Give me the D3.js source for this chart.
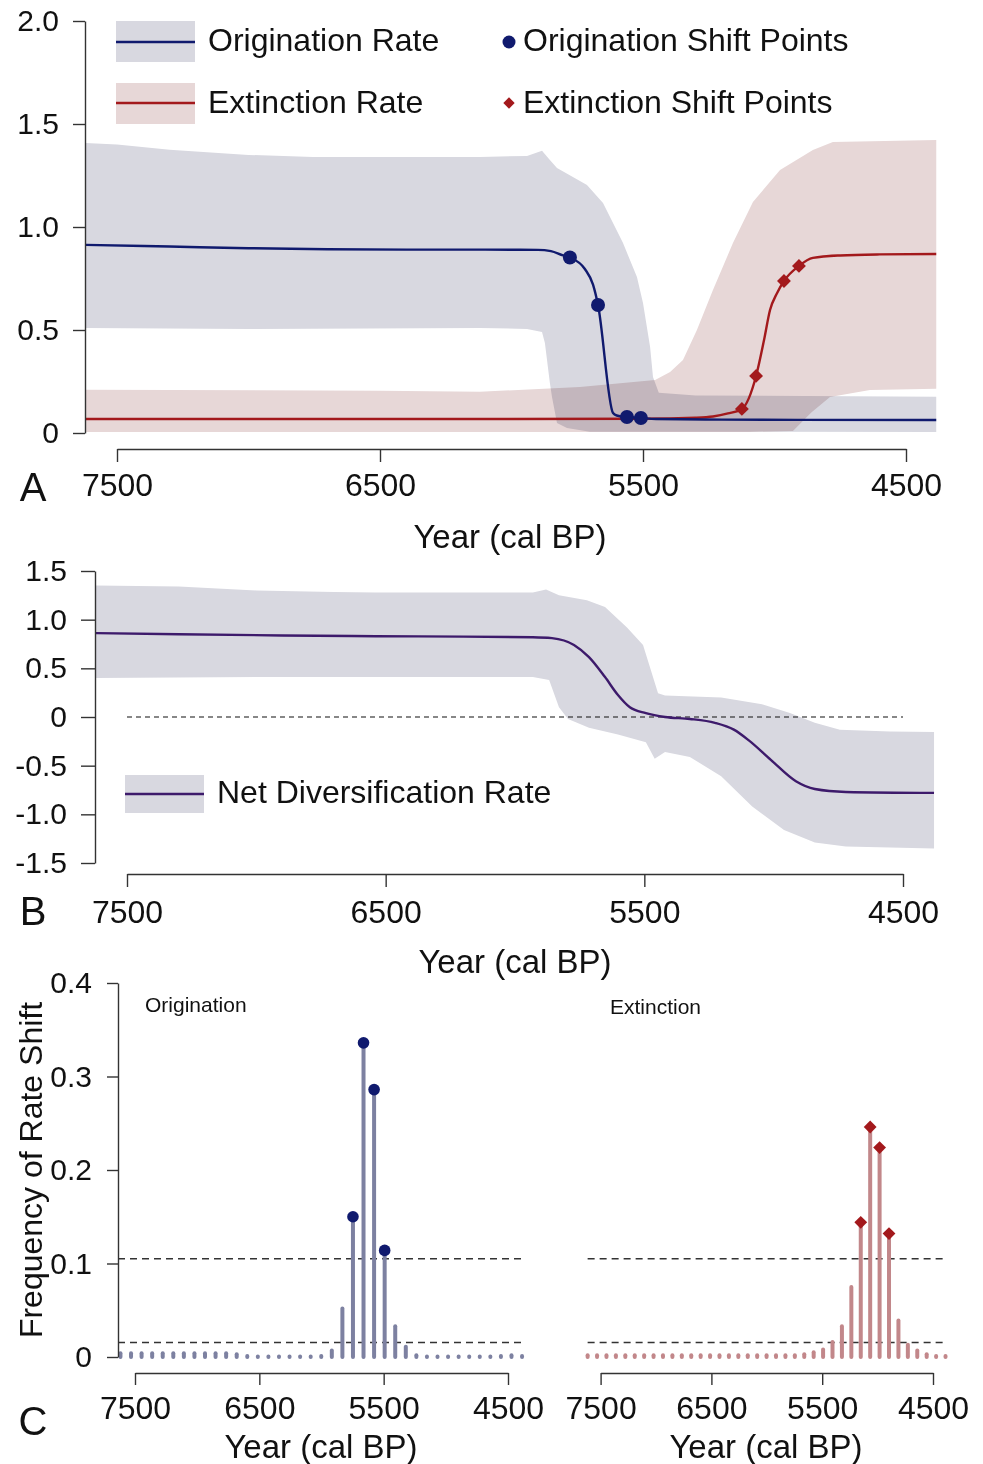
<!DOCTYPE html>
<html>
<head>
<meta charset="utf-8">
<script src="https://cdn.jsdelivr.net/npm/d3@7"></script>
<style>
  html, body { margin: 0; padding: 0; background: #fff; }
  svg { display: block; }
  text { font-family: "Liberation Sans", Arial, Helvetica, sans-serif; fill: #111; }
</style>
</head>
<body>
<script>
// ---------------- data ----------------
// Panel A: origination / extinction rate through time (year cal BP, rate)
const originationRate = [
  [7620, 0.913], [7300, 0.905], [7000, 0.897], [6700, 0.892], [6400, 0.890],
  [6100, 0.890], [5900, 0.889], [5850, 0.883], [5804, 0.862], [5778, 0.852],
  [5721, 0.796], [5690, 0.720], [5671, 0.621], [5614, 0.097], [5600, 0.085],
  [5561, 0.078], [5508, 0.073], [5450, 0.068], [5200, 0.065], [4385, 0.063]
];
const originationUpper = [
  [7620, 1.408], [7500, 1.400], [7300, 1.375], [7000, 1.350], [6755, 1.340],
  [6120, 1.340], [5941, 1.345], [5884, 1.370], [5854, 1.325], [5827, 1.286],
  [5713, 1.204], [5652, 1.117], [5576, 0.922], [5523, 0.757], [5500, 0.631],
  [5473, 0.417], [5462, 0.272], [5440, 0.195], [5300, 0.182], [4385, 0.176]
];
const originationLower = [
  [7620, 0.510], [7000, 0.505], [6120, 0.510], [5941, 0.505], [5884, 0.490],
  [5873, 0.437], [5854, 0.243], [5846, 0.175], [5827, 0.049], [5789, 0.024],
  [5702, 0.006], [4385, 0.005]
];
const extinctionRate = [
  [7620, 0.068], [6500, 0.068], [5500, 0.069], [5300, 0.074], [5234, 0.080],
  [5177, 0.095], [5124, 0.117], [5070, 0.277], [5040, 0.450], [5017, 0.597],
  [4990, 0.680], [4964, 0.738], [4907, 0.811], [4854, 0.850], [4750, 0.862],
  [4600, 0.867], [4385, 0.869]
];
const extinctionUpper = [
  [7620, 0.210], [6500, 0.205], [6120, 0.200], [5740, 0.223], [5454, 0.257],
  [5397, 0.296], [5348, 0.354], [5295, 0.500], [5234, 0.694], [5158, 0.922],
  [5082, 1.121], [4979, 1.277], [4854, 1.374], [4778, 1.413], [4385, 1.422]
];
const extinctionLower = [
  [7620, 0.005], [5100, 0.005], [4930, 0.010], [4860, 0.100], [4789, 0.175],
  [4637, 0.209], [4385, 0.215]
];
const originationShiftYears = [5778, 5671, 5561, 5508];
const originationShiftRates = [0.852, 0.621, 0.078, 0.073];
const extinctionShiftYears = [5124, 5070, 4964, 4907];
const extinctionShiftRates = [0.117, 0.277, 0.738, 0.811];

// Panel B: net diversification rate
const netRate = [
  [7620, 0.862], [7300, 0.850], [6900, 0.838], [6537, 0.830], [6200, 0.826],
  [5931, 0.820], [5857, 0.810], [5772, 0.740], [5714, 0.615], [5652, 0.410],
  [5602, 0.226], [5556, 0.100], [5494, 0.040], [5420, 0.000], [5324, -0.020],
  [5227, -0.060], [5154, -0.130], [5096, -0.240], [5011, -0.440], [4914, -0.660],
  [4841, -0.740], [4721, -0.770], [4380, -0.780]
];
const netUpper = [
  [7620, 1.350], [7300, 1.340], [7000, 1.300], [6700, 1.285], [6537, 1.280],
  [5931, 1.280], [5880, 1.310], [5830, 1.250], [5722, 1.200], [5652, 1.130],
  [5567, 0.920], [5505, 0.740], [5447, 0.245], [5420, 0.220], [5203, 0.200],
  [5045, 0.130], [4937, 0.040], [4841, -0.060], [4744, -0.130], [4551, -0.150],
  [4380, -0.155]
];
const netLower = [
  [7620, 0.400], [7000, 0.410], [5931, 0.410], [5868, 0.380], [5830, 0.100],
  [5795, -0.020], [5714, -0.110], [5602, -0.180], [5494, -0.260], [5460, -0.430],
  [5420, -0.360], [5324, -0.410], [5203, -0.610], [5083, -0.920], [4960, -1.160],
  [4841, -1.290], [4721, -1.330], [4380, -1.350]
];

// Panel C: frequency of rate shifts per time bin
const binYears = [
  7617, 7532, 7447, 7362, 7277, 7192, 7107, 7022, 6937, 6852,
  6767, 6682, 6597, 6512, 6427, 6342, 6257, 6172, 6087, 6002,
  5917, 5832, 5747, 5662, 5577, 5492, 5407, 5322, 5237, 5152,
  5067, 4982, 4897, 4812, 4727, 4642, 4557, 4472, 4387
];
const originationFreq = [
  0.004, 0.004, 0.004, 0.004, 0.004, 0.004, 0.004, 0.004, 0.004, 0.004,
  0.004, 0.003, 0.001, 0.0005, 0.0005, 0.0005, 0.0005, 0.0005, 0.0005, 0.001,
  0.007, 0.052, 0.150, 0.336, 0.286, 0.114, 0.033, 0.011, 0.002, 0.0005,
  0.0005, 0.0005, 0.0005, 0.0005, 0.0005, 0.0005, 0.001, 0.002, 0.001
];
const extinctionFreq = [
  0.002, 0.002, 0.002, 0.002, 0.002, 0.002, 0.002, 0.002, 0.002, 0.002,
  0.002, 0.002, 0.002, 0.002, 0.002, 0.002, 0.002, 0.002, 0.002, 0.002,
  0.002, 0.002, 0.002, 0.003, 0.005, 0.008, 0.016, 0.033, 0.075, 0.144,
  0.246, 0.224, 0.132, 0.039, 0.013, 0.007, 0.003, 0.001, 0.001
];
const significanceLevels = [0.105, 0.0155];

const yearTicks = [7500, 6500, 5500, 4500];
const rateTicksA = [0, 0.5, 1.0, 1.5, 2.0];
const rateTicksB = [-1.5, -1.0, -0.5, 0, 0.5, 1.0, 1.5];
const freqTicks = [0, 0.1, 0.2, 0.3, 0.4];

// ---------------- styles ----------------
const NAVY = "#101a6e";
const RED = "#a3191c";
const PURPLE = "#3d1a6b";
const GREY_BAND = "#d8d8e0";
const RED_BAND = "#e7d7d7";
const BAR_BLUE = "#7d81a1";
const BAR_RED = "#c2878a";
const AXIS = "#333";
const FONT = 32;
const TITLE_FONT = 33;
const Y_TICK_FONT = 30;
const X_TICK_FONT = 32;

const svg = d3.select("body").append("svg")
  .attr("width", 983).attr("height", 1464);

const numFmt = d => d === 0 ? "0" : d.toFixed(1);

function styleAxis(g, fs) {
  g.attr("font-size", null).attr("font-family", null);
  g.select(".domain").attr("stroke", AXIS).attr("stroke-width", 1.4);
  g.selectAll(".tick line").attr("stroke", AXIS).attr("stroke-width", 1.4);
  g.selectAll(".tick text").attr("font-size", fs).attr("fill", "#111");
}

function polygon(x, y, upper, lower) {
  const pts = upper.concat(lower.slice().reverse());
  return d3.line().x(d => x(d[0])).y(d => y(d[1]))(pts) + "Z";
}

function text(x, y, str, opts = {}) {
  const t = svg.append("text").attr("x", x).attr("y", y)
    .attr("font-size", opts.size || FONT)
    .attr("text-anchor", opts.anchor || "start")
    .text(str);
  if (opts.transform) t.attr("transform", opts.transform);
  return t;
}

// ================= Panel A =================
const xA = d3.scaleLinear().domain([7500, 4500]).range([117, 906]);
const yA = d3.scaleLinear().domain([0, 2]).range([433, 21]);

const gA = svg.append("g");
gA.append("path").attr("d", polygon(xA, yA, extinctionUpper, extinctionLower))
  .attr("fill", RED_BAND);
gA.append("path").attr("d", polygon(xA, yA, originationUpper, originationLower))
  .attr("fill", GREY_BAND).style("mix-blend-mode", "multiply");

const lineA = d3.line().x(d => xA(d[0])).y(d => yA(d[1])).curve(d3.curveMonotoneX);
gA.append("path").attr("d", lineA(extinctionRate))
  .attr("fill", "none").attr("stroke", RED).attr("stroke-width", 2.4);
gA.append("path").attr("d", lineA(originationRate))
  .attr("fill", "none").attr("stroke", NAVY).attr("stroke-width", 2.4);

gA.selectAll(".oshift").data(originationShiftYears).join("circle")
  .attr("cx", d => xA(d)).attr("cy", (d, i) => yA(originationShiftRates[i]))
  .attr("r", 7).attr("fill", NAVY);
gA.selectAll(".eshift").data(extinctionShiftYears).join("path")
  .attr("d", d3.symbol(d3.symbolSquare, 96)())
  .attr("transform", (d, i) => `translate(${xA(d)},${yA(extinctionShiftRates[i])}) rotate(45)`)
  .attr("fill", RED);

svg.append("g").attr("transform", "translate(85,0)")
  .call(d3.axisLeft(yA).tickValues(rateTicksA).tickFormat(numFmt)
    .tickSize(12).tickPadding(14).tickSizeOuter(0))
  .call(g => styleAxis(g, Y_TICK_FONT));
svg.append("g").attr("transform", "translate(0,449)")
  .call(d3.axisBottom(xA).tickValues(yearTicks).tickFormat(d3.format("d"))
    .tickSize(13).tickPadding(11).tickSizeOuter(0))
  .call(g => styleAxis(g, X_TICK_FONT));

// legend A
svg.append("rect").attr("x", 116).attr("y", 21).attr("width", 79).attr("height", 41).attr("fill", GREY_BAND);
svg.append("line").attr("x1", 116).attr("x2", 195).attr("y1", 42).attr("y2", 42).attr("stroke", NAVY).attr("stroke-width", 2.4);
svg.append("rect").attr("x", 116).attr("y", 83).attr("width", 79).attr("height", 41).attr("fill", RED_BAND);
svg.append("line").attr("x1", 116).attr("x2", 195).attr("y1", 103).attr("y2", 103).attr("stroke", RED).attr("stroke-width", 2.4);
text(208, 51, "Origination Rate");
text(208, 113, "Extinction Rate");
svg.append("circle").attr("cx", 509).attr("cy", 42).attr("r", 6.5).attr("fill", NAVY);
svg.append("path").attr("d", d3.symbol(d3.symbolSquare, 64)())
  .attr("transform", "translate(509,103) rotate(45)").attr("fill", RED);
text(523, 51, "Origination Shift Points");
text(523, 113, "Extinction Shift Points");

text(33, 501, "A", { size: 40, anchor: "middle" });
text(510, 548, "Year (cal BP)", { size: TITLE_FONT, anchor: "middle" });

// ================= Panel B =================
const xB = d3.scaleLinear().domain([7500, 4500]).range([127, 903]);
const yB = d3.scaleLinear().domain([-1.5, 1.5]).range([863, 571]);

svg.append("path").attr("d", polygon(xB, yB, netUpper, netLower)).attr("fill", GREY_BAND);
svg.append("line")
  .attr("x1", xB(7500)).attr("x2", xB(4500)).attr("y1", yB(0)).attr("y2", yB(0))
  .attr("stroke", "#111").attr("stroke-width", 1.2).attr("stroke-dasharray", "5,4");
svg.append("path")
  .attr("d", d3.line().x(d => xB(d[0])).y(d => yB(d[1])).curve(d3.curveMonotoneX)(netRate))
  .attr("fill", "none").attr("stroke", PURPLE).attr("stroke-width", 2.4);

svg.append("g").attr("transform", "translate(95,0)")
  .call(d3.axisLeft(yB).tickValues(rateTicksB).tickFormat(numFmt)
    .tickSize(14).tickPadding(14).tickSizeOuter(0))
  .call(g => styleAxis(g, Y_TICK_FONT));
svg.append("g").attr("transform", "translate(0,874)")
  .call(d3.axisBottom(xB).tickValues(yearTicks).tickFormat(d3.format("d"))
    .tickSize(13).tickPadding(13).tickSizeOuter(0))
  .call(g => styleAxis(g, X_TICK_FONT));

svg.append("rect").attr("x", 125).attr("y", 775).attr("width", 79).attr("height", 38).attr("fill", GREY_BAND);
svg.append("line").attr("x1", 125).attr("x2", 204).attr("y1", 794).attr("y2", 794).attr("stroke", PURPLE).attr("stroke-width", 2.4);
text(217, 803, "Net Diversification Rate");

text(33, 925, "B", { size: 40, anchor: "middle" });
text(515, 973, "Year (cal BP)", { size: TITLE_FONT, anchor: "middle" });

// ================= Panel C =================
const yC = d3.scaleLinear().domain([0, 0.4]).range([1357, 983]);
const xC1 = d3.scaleLinear().domain([7500, 4500]).range([135, 508]);
const xC2 = d3.scaleLinear().domain([7500, 4500]).range([600.6, 933]);

function shiftPanel(x, freq, barColor, markColor, marker, dashStart) {
  const g = svg.append("g");
  const x0 = dashStart != null ? dashStart : x(binYears[0]);
  const x1 = x(binYears[binYears.length - 1]);
  g.selectAll(".lvl").data(significanceLevels).join("line")
    .attr("x1", x0).attr("x2", x1)
    .attr("y1", d => yC(d)).attr("y2", d => yC(d))
    .attr("stroke", "#333").attr("stroke-width", 1.5).attr("stroke-dasharray", "7,5");
  g.selectAll(".bar").data(binYears).join("line")
    .attr("x1", d => x(d)).attr("x2", d => x(d))
    .attr("y1", yC(0)).attr("y2", (d, i) => yC(freq[i]))
    .attr("stroke", barColor).attr("stroke-width", 4).attr("stroke-linecap", "round");
  const sig = binYears.map((d, i) => [d, freq[i]]).filter(d => d[1] > significanceLevels[0]);
  if (marker === "circle") {
    g.selectAll(".mk").data(sig).join("circle")
      .attr("cx", d => x(d[0])).attr("cy", d => yC(d[1])).attr("r", 5.8).attr("fill", markColor);
  } else {
    g.selectAll(".mk").data(sig).join("path")
      .attr("d", d3.symbol(d3.symbolSquare, 82)())
      .attr("transform", d => `translate(${x(d[0])},${yC(d[1])}) rotate(45)`)
      .attr("fill", markColor);
  }
  svg.append("g").attr("transform", "translate(0,1373)")
    .call(d3.axisBottom(x).tickValues(yearTicks).tickFormat(d3.format("d"))
      .tickSize(12).tickPadding(11).tickSizeOuter(0))
    .call(a => styleAxis(a, X_TICK_FONT));
}

shiftPanel(xC1, originationFreq, BAR_BLUE, NAVY, "circle", 118);
shiftPanel(xC2, extinctionFreq, BAR_RED, RED, "diamond", null);

svg.append("g").attr("transform", "translate(118,0)")
  .call(d3.axisLeft(yC).tickValues(freqTicks).tickFormat(numFmt)
    .tickSize(11).tickPadding(15).tickSizeOuter(0))
  .call(g => styleAxis(g, Y_TICK_FONT));

text(145, 1012, "Origination", { size: 21 });
text(610, 1014, "Extinction", { size: 21 });
text(0, 0, "Frequency of Rate Shift", { anchor: "middle", transform: "translate(42,1170) rotate(-90)" });

text(33, 1435, "C", { size: 40, anchor: "middle" });
text(321, 1458, "Year (cal BP)", { size: TITLE_FONT, anchor: "middle" });
text(766, 1458, "Year (cal BP)", { size: TITLE_FONT, anchor: "middle" });
</script>
</body>
</html>
